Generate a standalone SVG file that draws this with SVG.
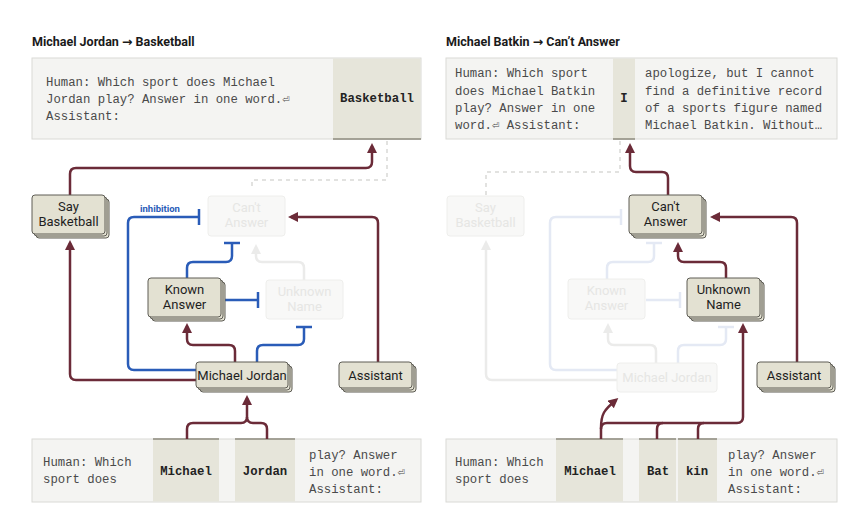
<svg xmlns="http://www.w3.org/2000/svg" width="853" height="526" viewBox="0 0 853 526">
<defs>
<style>
.title{font-family:Roboto,"Liberation Sans",sans-serif;font-size:12.5px;font-weight:bold;fill:#1a1a1a}
.arr{font-family:"DejaVu Sans",sans-serif;font-weight:bold}
.mono{font-family:"Liberation Mono","DejaVu Sans Mono",monospace;font-size:12.3px;fill:#4a4a4a}
.tok{font-family:"Liberation Mono","DejaVu Sans Mono",monospace;font-size:12.3px;font-weight:bold;fill:#222}
.box{fill:#f4f4f2;stroke:#dadad6;stroke-width:1}
.cell{fill:#e6e5da}
.cellEdge{stroke:#8c8a7c;stroke-width:1.5}
.node{fill:#e3e1d2;stroke:#5e5d55;stroke-width:1}
.fnode{fill:#f8f8f7;stroke:#eeeeec;stroke-width:1}
.lbl{font-family:Roboto,"Liberation Sans",sans-serif;font-size:13px;fill:#1e1e1e;text-anchor:middle}
.flbl{font-family:Roboto,"Liberation Sans",sans-serif;font-size:13px;fill:#e6e6e4;text-anchor:middle}
.ex{fill:none;stroke:#6b2b38;stroke-width:2.5}
.in{fill:none;stroke:#2a5cb8;stroke-width:2.5}
.fex{fill:none;stroke:#ebebea;stroke-width:2.5}
.fin{fill:none;stroke:#e4e9f4;stroke-width:2.5}
.dash{fill:none;stroke:#e2e2e0;stroke-width:2;stroke-dasharray:4 4}
</style>
<marker id="ah" markerUnits="userSpaceOnUse" viewBox="0 0 10 10" refX="7" refY="5" markerWidth="10" markerHeight="10" orient="auto"><path d="M0,0 L10,5 L0,10 z" fill="#6b2b38"/></marker>
<marker id="fah" markerUnits="userSpaceOnUse" viewBox="0 0 10 10" refX="7" refY="5" markerWidth="10" markerHeight="10" orient="auto"><path d="M0,0 L10,5 L0,10 z" fill="#ebebea"/></marker>
<marker id="tb" markerUnits="userSpaceOnUse" viewBox="-2 -9 4 18" refX="0" refY="0" markerWidth="4" markerHeight="18" orient="auto"><path d="M0,-8 V8" stroke="#2a5cb8" stroke-width="2.5"/></marker>
<marker id="ftb" markerUnits="userSpaceOnUse" viewBox="-2 -9 4 18" refX="0" refY="0" markerWidth="4" markerHeight="18" orient="auto"><path d="M0,-8 V8" stroke="#e4e9f4" stroke-width="2.5"/></marker>
</defs>
<rect width="853" height="526" fill="#ffffff"/>

<!-- titles -->
<text class="title" x="32" y="46">Michael Jordan <tspan class="arr">→</tspan> Basketball</text>
<text class="title" x="446" y="46">Michael Batkin <tspan class="arr">→</tspan> Can’t Answer</text>

<!-- LEFT top prompt box -->
<g id="left-prompt-top">
<rect class="box" x="32" y="58" width="389" height="81"/>
<rect class="cell" x="333" y="58.5" width="87.5" height="80.5"/>
<line class="cellEdge" x1="333" y1="139" x2="421" y2="139"/>
<text class="mono" x="46" y="86">Human: Which sport does Michael</text>
<text class="mono" x="46" y="103">Jordan play? Answer in one word.⏎</text>
<text class="mono" x="46" y="120">Assistant:</text>
<text class="tok" x="377" y="102" text-anchor="middle">Basketball</text>
</g>

<!-- LEFT bottom token box -->
<g id="left-prompt-bottom">
<rect class="box" x="32" y="439" width="389" height="63"/>
<rect class="cell" x="153" y="439.5" width="66" height="62"/>
<rect class="cell" x="235" y="439.5" width="60" height="62"/>
<line class="cellEdge" x1="153" y1="439" x2="219" y2="439"/>
<line class="cellEdge" x1="235" y1="439" x2="295" y2="439"/>
<text class="mono" x="43" y="466">Human: Which</text>
<text class="mono" x="43" y="483">sport does</text>
<text class="tok" x="186" y="475" text-anchor="middle">Michael</text>
<text class="tok" x="265" y="475" text-anchor="middle">Jordan</text>
<text class="mono" x="309" y="459">play? Answer</text>
<text class="mono" x="309" y="476">in one word.⏎</text>
<text class="mono" x="309" y="493">Assistant:</text>
</g>

<!-- RIGHT top prompt box -->
<g id="right-prompt-top">
<rect class="box" x="446" y="58" width="391" height="81"/>
<rect class="cell" x="613" y="58.5" width="22" height="80.5"/>
<line class="cellEdge" x1="613" y1="139" x2="635" y2="139"/>
<text class="mono" x="455" y="77">Human: Which sport</text>
<text class="mono" x="455" y="95">does Michael Batkin</text>
<text class="mono" x="455" y="112">play? Answer in one</text>
<text class="mono" x="455" y="129">word.⏎ Assistant:</text>
<text class="tok" x="624" y="102" text-anchor="middle">I</text>
<text class="mono" x="645" y="77">apologize, but I cannot</text>
<text class="mono" x="645" y="95">find a definitive record</text>
<text class="mono" x="645" y="112">of a sports figure named</text>
<text class="mono" x="645" y="129">Michael Batkin. Without…</text>
</g>

<!-- RIGHT bottom token box -->
<g id="right-prompt-bottom">
<rect class="box" x="446" y="439" width="391" height="63"/>
<rect class="cell" x="556" y="439.5" width="67" height="62"/>
<rect class="cell" x="639" y="439.5" width="37" height="62"/>
<rect class="cell" x="678" y="439.5" width="39" height="62"/>
<line class="cellEdge" x1="556" y1="439" x2="623" y2="439"/>
<line class="cellEdge" x1="639" y1="439" x2="676" y2="439"/>
<line class="cellEdge" x1="678" y1="439" x2="717" y2="439"/>
<text class="mono" x="455" y="466">Human: Which</text>
<text class="mono" x="455" y="483">sport does</text>
<text class="tok" x="590" y="475" text-anchor="middle">Michael</text>
<text class="tok" x="658" y="475" text-anchor="middle">Bat</text>
<text class="tok" x="697" y="475" text-anchor="middle">kin</text>
<text class="mono" x="728" y="459">play? Answer</text>
<text class="mono" x="728" y="476">in one word.⏎</text>
<text class="mono" x="728" y="493">Assistant:</text>
</g>

<!-- connectors -->
<g id="connectors">
<!-- left panel -->
<path class="dash" d="M387,141 V180 H252 V189"/>
<path class="ex" marker-end="url(#ah)" d="M70,195 V174 Q70,168 76,168 H366 Q372,168 372,162 V146"/>
<path class="in" marker-end="url(#tb)" d="M196,370 H134 Q128,370 128,364 V223 Q128,217 134,217 H199"/>
<path class="ex" marker-end="url(#ah)" d="M378,362 V223 Q378,217 372,217 H291"/>
<path class="in" marker-end="url(#tb)" d="M187,278 V268 Q187,262 193,262 H226 Q232,262 232,256 V243"/>
<path class="fex" marker-end="url(#fah)" d="M304,280 V268 Q304,262 298,262 H262 Q256,262 256,256 V247"/>
<path class="in" marker-end="url(#tb)" d="M221,300 H258"/>
<path class="ex" marker-end="url(#ah)" d="M235,362 V351 Q235,345 229,345 H193 Q187,345 187,339 V326"/>
<path class="in" marker-end="url(#tb)" d="M257,362 V351 Q257,345 263,345 H298 Q304,345 304,339 V327"/>
<path class="ex" marker-end="url(#ah)" d="M196,380 H76 Q70,380 70,374 V243"/>
<path class="ex" marker-end="url(#ah)" d="M187,439 V429 Q187,423 193,423 H241 Q247,423 247,417 V398"/>
<path class="ex" d="M267,439 V429 Q267,423 261,423 H253 Q247,423 247,417"/>
<text x="140" y="212" style="font-family:Roboto,'Liberation Sans',sans-serif;font-size:9.5px;font-weight:bold;fill:#2a5cb8">inhibition</text>
<!-- right panel -->
<path class="dash" d="M620,141 V172 H486 V195"/>
<path class="fin" marker-end="url(#ftb)" d="M617,370 H556 Q550,370 550,364 V223 Q550,217 556,217 H621"/>
<path class="fin" marker-end="url(#ftb)" d="M607,279 V268 Q607,262 613,262 H648 Q654,262 654,256 V243"/>
<path class="fin" marker-end="url(#ftb)" d="M646,300 H680"/>
<path class="fex" marker-end="url(#fah)" d="M656,363 V351 Q656,345 650,345 H614 Q608,345 608,339 V326"/>
<path class="fin" marker-end="url(#ftb)" d="M678,363 V351 Q678,345 684,345 H720 Q726,345 726,339 V327"/>
<path class="fex" marker-end="url(#fah)" d="M617,380 H492 Q486,380 486,374 V243"/>
<path class="ex" marker-end="url(#ah)" d="M668,195 V178 Q668,172 662,172 H636 Q630,172 630,166 V146"/>
<path class="ex" marker-end="url(#ah)" d="M797,362 V223 Q797,217 791,217 H713"/>
<path class="ex" marker-end="url(#ah)" d="M726,279 V268 Q726,262 720,262 H684 Q678,262 678,256 V245"/>
<path class="ex" marker-end="url(#ah)" d="M601,439 V428 C601,414 604,410 616,400"/>
<path class="ex" marker-end="url(#ah)" d="M601,429 Q601,423 607,423 H737 Q743,423 743,417 V326"/>
<path class="ex" d="M657,439 V429 Q657,423 663,423"/>
<path class="ex" d="M698,439 V429 Q698,423 704,423"/>
</g>

<!-- LEFT nodes -->
<g id="node-say-basketball-left">
<rect class="node" x="36" y="199" width="73" height="39" rx="3"/>
<rect class="node" x="34" y="197" width="73" height="39" rx="3"/>
<rect class="node" x="32" y="195" width="73" height="39" rx="3"/>
<text class="lbl" x="68.5" y="211">Say</text>
<text class="lbl" x="68.5" y="226">Basketball</text>
</g>
<g id="node-cant-answer-left">
<rect class="fnode" x="208" y="196" width="77" height="40" rx="3"/>
<text class="flbl" x="246.5" y="212">Can't</text>
<text class="flbl" x="246.5" y="227">Answer</text>
</g>
<g id="node-known-answer-left">
<rect class="node" x="152" y="282" width="73" height="39" rx="3"/>
<rect class="node" x="150" y="280" width="73" height="39" rx="3"/>
<rect class="node" x="148" y="278" width="73" height="39" rx="3"/>
<text class="lbl" x="184.5" y="294">Known</text>
<text class="lbl" x="184.5" y="309">Answer</text>
</g>
<g id="node-unknown-name-left">
<rect class="fnode" x="266" y="280" width="77" height="39" rx="3"/>
<text class="flbl" x="304.5" y="296">Unknown</text>
<text class="flbl" x="304.5" y="311">Name</text>
</g>
<g id="node-michael-jordan-left">
<rect class="node" x="200" y="366" width="92" height="26" rx="3"/>
<rect class="node" x="198" y="364" width="92" height="26" rx="3"/>
<rect class="node" x="196" y="362" width="92" height="26" rx="3"/>
<text class="lbl" x="242" y="380">Michael Jordan</text>
</g>
<g id="node-assistant-left">
<rect class="node" x="343" y="366" width="73" height="26" rx="3"/>
<rect class="node" x="341" y="364" width="73" height="26" rx="3"/>
<rect class="node" x="339" y="362" width="73" height="26" rx="3"/>
<text class="lbl" x="375.5" y="380">Assistant</text>
</g>

<!-- RIGHT nodes -->
<g id="node-say-basketball-right">
<rect class="fnode" x="447" y="196" width="77" height="40" rx="3"/>
<text class="flbl" x="485.5" y="212">Say</text>
<text class="flbl" x="485.5" y="227">Basketball</text>
</g>
<g id="node-cant-answer-right">
<rect class="node" x="633" y="199" width="73" height="39" rx="3"/>
<rect class="node" x="631" y="197" width="73" height="39" rx="3"/>
<rect class="node" x="629" y="195" width="73" height="39" rx="3"/>
<text class="lbl" x="665.5" y="211">Can't</text>
<text class="lbl" x="665.5" y="226">Answer</text>
</g>
<g id="node-known-answer-right">
<rect class="fnode" x="568" y="279" width="77" height="40" rx="3"/>
<text class="flbl" x="606.5" y="295">Known</text>
<text class="flbl" x="606.5" y="310">Answer</text>
</g>
<g id="node-unknown-name-right">
<rect class="node" x="691" y="282" width="73" height="39" rx="3"/>
<rect class="node" x="689" y="280" width="73" height="39" rx="3"/>
<rect class="node" x="687" y="278" width="73" height="39" rx="3"/>
<text class="lbl" x="723.5" y="294">Unknown</text>
<text class="lbl" x="723.5" y="309">Name</text>
</g>
<g id="node-michael-jordan-right">
<rect class="fnode" x="617" y="363" width="100" height="29" rx="3"/>
<text class="flbl" x="667" y="382">Michael Jordan</text>
</g>
<g id="node-assistant-right">
<rect class="node" x="761" y="366" width="74" height="26" rx="3"/>
<rect class="node" x="759" y="364" width="74" height="26" rx="3"/>
<rect class="node" x="757" y="362" width="74" height="26" rx="3"/>
<text class="lbl" x="794" y="380">Assistant</text>
</g>
</svg>
